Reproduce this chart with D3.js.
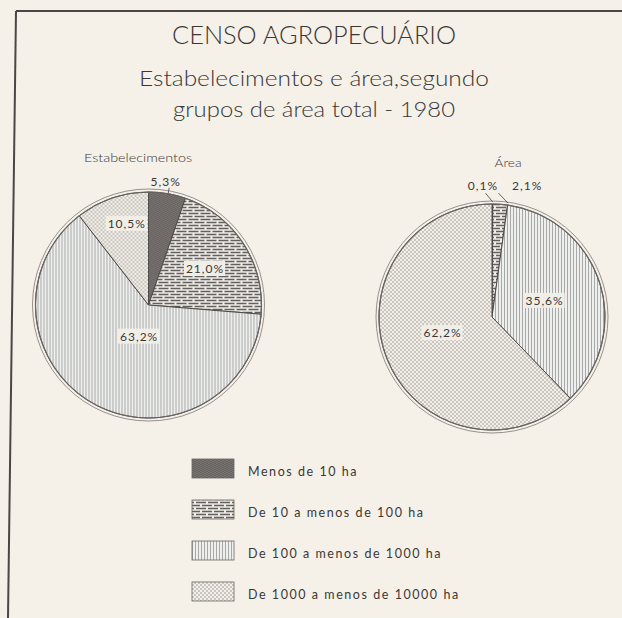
<!DOCTYPE html>
<html><head><meta charset="utf-8">
<script src="https://cdn.jsdelivr.net/npm/d3@7"></script>
<style>
html,body{margin:0;padding:0;background:#f5f0e8;}
svg{display:block;}
text{font-family:Lato,"DejaVu Sans",sans-serif;fill:#3a3836;}
</style></head>
<body>
<svg id="chart" width="622" height="618"></svg>
<script>
// ---- data ----
const categories = ["Menos de 10 ha", "De 10 a menos de 100 ha", "De 100 a menos de 1000 ha", "De 1000 a menos de 10000 ha"];
const estabelecimentos = [5.3, 21.0, 63.2, 10.5];
const area = [0.1, 2.1, 35.6, 62.2];
const labelsEstabelecimentos = ["5,3%", "21,0%", "63,2%", "10,5%"];
const labelsArea = ["0,1%", "2,1%", "35,6%", "62,2%"];
const titleLines = ["CENSO AGROPECUÁRIO", "Estabelecimentos e área,segundo", "grupos de área total - 1980"];
const pieTitles = ["Estabelecimentos", "Área"];

// ---- layout ----
const svg = d3.select("#chart");
const W = 622, H = 618;
svg.append("rect").attr("width", W).attr("height", H).attr("fill", "#f5f0e8");

const defs = svg.append("defs");
// pattern: dark (Menos de 10 ha)
let p = defs.append("pattern").attr("id", "pat0").attr("patternUnits", "userSpaceOnUse").attr("width", 4).attr("height", 4);
p.append("rect").attr("width", 4).attr("height", 4).attr("fill", "#807c78");
p.append("path").attr("d", "M0,1 Q1,0 2,1 T4,1 M0,3 Q1,2 2,3 T4,3").attr("stroke", "#5a5653").attr("stroke-width", 0.9).attr("fill", "none");
// pattern: horizontal dashes (10-100)
p = defs.append("pattern").attr("id", "pat1").attr("patternUnits", "userSpaceOnUse").attr("width", 12).attr("height", 6);
p.append("rect").attr("width", 12).attr("height", 6).attr("fill", "#f0ede7");
p.append("path").attr("d", "M0,1.5 H8 M10,1.5 H12 M0,4.5 H2 M4,4.5 H12").attr("stroke", "#626060").attr("stroke-width", 1.4);
// pattern: vertical lines (100-1000)
p = defs.append("pattern").attr("id", "pat2").attr("patternUnits", "userSpaceOnUse").attr("width", 3).attr("height", 4);
p.append("rect").attr("width", 3).attr("height", 4).attr("fill", "#eef0ef");
p.append("path").attr("d", "M0.5,0 V4").attr("stroke", "#a3a09c").attr("stroke-width", 0.9);
// pattern: dots (1000-10000)
p = defs.append("pattern").attr("id", "pat3").attr("patternUnits", "userSpaceOnUse").attr("width", 4).attr("height", 4);
p.append("rect").attr("width", 4).attr("height", 4).attr("fill", "#f3efe8");
p.append("circle").attr("cx", 1).attr("cy", 1).attr("r", 0.75).attr("fill", "#8a8681");
p.append("circle").attr("cx", 3).attr("cy", 3).attr("r", 0.75).attr("fill", "#8a8681");

const fills = categories.map((c, i) => `url(#pat${i})`);
const color = d3.scaleOrdinal().domain(categories).range(fills);

// frame
svg.append("path").attr("d", "M16,11 H622").attr("stroke", "#4a4744").attr("stroke-width", 2);
svg.append("path").attr("d", "M16,11 L8,618").attr("stroke", "#4a4744").attr("stroke-width", 2);

// titles
const titleSpec = [
  {y: 44, size: 25, len: 284},
  {y: 86, size: 22, len: 350},
  {y: 117, size: 22, len: 282}
];
titleLines.forEach((t, i) => {
  svg.append("text").attr("x", 314).attr("y", titleSpec[i].y)
    .attr("text-anchor", "middle").attr("font-size", titleSpec[i].size)
    .attr("font-weight", 300)
    .attr("textLength", titleSpec[i].len).attr("lengthAdjust", "spacingAndGlyphs")
    .text(t);
});

const R = 113;
const pie = d3.pie().sort(null).value(d => d.v);
const arc = d3.arc().innerRadius(0).outerRadius(R);

const pies = [
  {values: estabelecimentos, labels: labelsEstabelecimentos, cx: 148.5, cy: 305,
   title: pieTitles[0], tx: 138, ty: 162, tlen: 108,
   lab: [{a: 8, r: 124, out: true, lead: [10, 113, 119]}, {a: 57.5, r: 67}, {a: 196.5, r: 33}, {a: 345, r: 84}]},
  {values: area, labels: labelsArea, cx: 492, cy: 317,
   title: pieTitles[1], tx: 508, ty: 167, tlen: 27,
   lab: [{a: -4, r: 131, out: true, lead: [-3, 115, 124, 0.4]}, {a: 15, r: 136, out: true, lead: [3, 115, 124, 8]}, {a: 73, r: 55}, {a: 252, r: 52}]}
];

pies.forEach(P => {
  const g = svg.append("g").attr("transform", `translate(${P.cx},${P.cy})`);
  const data = pie(categories.map((c, i) => ({c, v: P.values[i]})));
  // outer ring
  g.append("circle").attr("r", R + 3).attr("fill", "none").attr("stroke", "#8a8682").attr("stroke-width", 0.9);
  g.selectAll("path.slice").data(data).join("path").attr("class", "slice")
    .attr("d", arc).attr("fill", d => color(d.data.c))
    .attr("stroke", "#4e4b48").attr("stroke-width", 1).attr("stroke-linejoin", "round");
  g.append("circle").attr("r", R).attr("fill", "none").attr("stroke", "#6a6662").attr("stroke-width", 1.2);

  // pie title
  svg.append("text").attr("x", P.tx).attr("y", P.ty).attr("text-anchor", "middle")
    .attr("font-size", 12).attr("font-weight", 300)
    .attr("textLength", P.tlen).attr("lengthAdjust", "spacingAndGlyphs")
    .text(P.title);

  // labels
  data.forEach((d, i) => {
    const L = P.lab[i];
    const rad = L.a * Math.PI / 180;
    const x = L.r * Math.sin(rad), y = -L.r * Math.cos(rad);
    if (L.lead) {
      const [la, r1, r2, endA] = L.lead;
      const ea = (endA !== undefined ? endA : la) * Math.PI / 180;
      const sa = la * Math.PI / 180;
      g.append("line")
        .attr("x1", r2 * Math.sin(sa)).attr("y1", -r2 * Math.cos(sa))
        .attr("x2", r1 * Math.sin(ea)).attr("y2", -r1 * Math.cos(ea))
        .attr("stroke", "#555").attr("stroke-width", 0.9);
    }
    const t = g.append("text").attr("x", x).attr("y", y + 4)
      .attr("text-anchor", "middle").attr("font-size", 12).attr("letter-spacing", 1)
      .text(P.labels[i]);
    if (!L.out) {
      const bb = t.node().getBBox();
      g.insert("rect", () => t.node()).attr("x", bb.x - 2).attr("y", bb.y).attr("width", bb.width + 3).attr("height", bb.height)
        .attr("fill", "#f1eee8");
    }
  });
});

// legend
const legendTop = 459, legendStep = 41;
const lg = svg.append("g");
categories.forEach((c, i) => {
  const y = legendTop + i * legendStep;
  lg.append("rect").attr("x", 192).attr("y", y).attr("width", 42).attr("height", 19)
    .attr("fill", color(c)).attr("stroke", "#6a6662").attr("stroke-width", 0.8);
  lg.append("text").attr("x", 248).attr("y", y + 17).attr("font-size", 12.5).attr("letter-spacing", 1.55)
    .text(c);
});
</script>
</body></html>
